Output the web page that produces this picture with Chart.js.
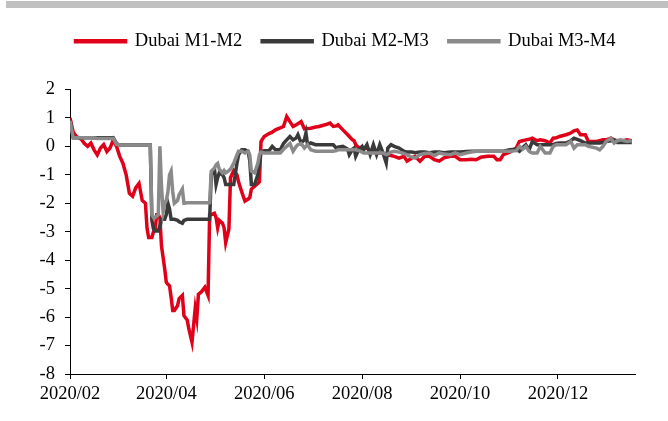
<!DOCTYPE html>
<html>
<head>
<meta charset="utf-8">
<script src="https://cdn.jsdelivr.net/npm/chart.js@4.4.1/dist/chart.umd.min.js"></script>
<style>
  body { margin: 0; background: #fff; }
  #wrap { position: relative; width: 668px; height: 421px; }
  #topBar { position: absolute; left: 6px; top: 1px; width: 662px; height: 7px; background: #c0c0c0; }
  canvas { position: absolute; left: 0; top: 0; }
</style>
</head>
<body>
<div id="wrap">
  <canvas id="spreadChart" width="668" height="421"></canvas>
  <div id="topBar"></div>
</div>
<script>
// sample dates
const dates = [
  '2020-02-01','2020-02-03','2020-02-05','2020-02-08','2020-02-10','2020-02-12','2020-02-14','2020-02-16','2020-02-18','2020-02-20','2020-02-22','2020-02-24','2020-02-26','2020-02-28',
  '2020-03-01','2020-03-03','2020-03-05','2020-03-07','2020-03-09','2020-03-11','2020-03-13','2020-03-15','2020-03-17','2020-03-19','2020-03-20','2020-03-21','2020-03-22','2020-03-23','2020-03-24','2020-03-25','2020-03-26','2020-03-27','2020-03-28','2020-03-29','2020-03-30','2020-03-31',
  '2020-04-01','2020-04-02','2020-04-03','2020-04-04','2020-04-05','2020-04-06','2020-04-08','2020-04-09','2020-04-11','2020-04-12','2020-04-14','2020-04-15','2020-04-17','2020-04-19','2020-04-20','2020-04-21','2020-04-23','2020-04-25','2020-04-27','2020-04-28','2020-04-29',
  '2020-05-01','2020-05-02','2020-05-03','2020-05-04','2020-05-06','2020-05-07','2020-05-08','2020-05-10','2020-05-11','2020-05-13','2020-05-15','2020-05-16','2020-05-18','2020-05-20','2020-05-22','2020-05-23','2020-05-24','2020-05-26','2020-05-28','2020-05-29','2020-05-30',
  '2020-06-01','2020-06-04','2020-06-06','2020-06-08','2020-06-11','2020-06-13','2020-06-15','2020-06-17','2020-06-19','2020-06-21','2020-06-22','2020-06-24','2020-06-26','2020-06-27','2020-06-28','2020-06-30',
  '2020-07-03','2020-07-05','2020-07-09','2020-07-12','2020-07-14','2020-07-16','2020-07-17','2020-07-20','2020-07-23','2020-07-24','2020-07-26','2020-07-27','2020-07-28','2020-07-30',
  '2020-08-01','2020-08-02','2020-08-04','2020-08-06','2020-08-08','2020-08-10','2020-08-12','2020-08-14','2020-08-16','2020-08-17','2020-08-19','2020-08-21','2020-08-24','2020-08-27','2020-08-29',
  '2020-09-01','2020-09-03','2020-09-06','2020-09-09','2020-09-12','2020-09-15','2020-09-18','2020-09-21','2020-09-25','2020-09-28',
  '2020-10-01','2020-10-05','2020-10-08','2020-10-11','2020-10-14','2020-10-18','2020-10-22','2020-10-24','2020-10-26','2020-10-28',
  '2020-11-01','2020-11-05','2020-11-07','2020-11-09','2020-11-11','2020-11-13','2020-11-15','2020-11-18','2020-11-20','2020-11-23','2020-11-26','2020-11-28','2020-11-30',
  '2020-12-02','2020-12-06','2020-12-09','2020-12-11','2020-12-13','2020-12-15','2020-12-18','2020-12-20','2020-12-25','2020-12-27','2020-12-29','2020-12-31',
  '2021-01-03','2021-01-05','2021-01-07','2021-01-09','2021-01-13','2021-01-16'
];

// Dubai M1-M2
const m1m2 = [
  1.0, 0.5, 0.35, 0.25, 0.1, 0.0, 0.12, -0.12, -0.3, -0.06, 0.06, -0.18, -0.05, 0.24,
  0.0, -0.35, -0.6, -1.0, -1.65, -1.75, -1.45, -1.3, -1.9, -2.0, -2.88, -3.2, -3.2, -3.2, -3.0, -2.95, -2.4, -2.4, -2.5, -3.5, -3.9, -4.3,
  -4.78, -4.85, -4.9, -5.3, -5.77, -5.77, -5.6, -5.35, -5.24, -5.95, -6.1, -6.4, -6.88, -5.7, -6.05, -5.2, -5.1, -4.95, -5.24, -2.4, -2.4,
  -2.35, -2.5, -2.86, -2.6, -2.7, -2.86, -3.38, -2.9, -1.1, -0.85, -1.0, -1.24, -1.6, -1.92, -1.85, -1.8, -1.5, -1.4, -1.3, -1.24, 0.17,
  0.35, 0.45, 0.5, 0.58, 0.65, 0.7, 1.05, 0.87, 0.7, 0.76, 0.8, 0.87, 0.62, 0.63, 0.63, 0.64,
  0.68, 0.7, 0.76, 0.82, 0.7, 0.72, 0.76, 0.58, 0.41, 0.35, 0.23, 0.2, 0.06, -0.05,
  -0.12, -0.08, -0.05, -0.2, -0.2, -0.23, -0.23, -0.23, -0.3, -0.3, -0.32, -0.35, -0.41, -0.35, -0.52,
  -0.41, -0.35, -0.52, -0.35, -0.35, -0.47, -0.52, -0.4, -0.35, -0.35,
  -0.47, -0.47, -0.45, -0.47, -0.38, -0.35, -0.35, -0.47, -0.47, -0.29,
  -0.2, -0.06, 0.17, 0.2, 0.23, 0.25, 0.29, 0.2, 0.23, 0.2, 0.12, 0.29, 0.3,
  0.35, 0.41, 0.47, 0.55, 0.58, 0.41, 0.41, 0.17, 0.17, 0.2, 0.23, 0.23,
  0.29, 0.23, 0.2, 0.17, 0.23, 0.2
];

// Dubai M2-M3
const m2m3 = [
  0.95, 0.3, 0.3, 0.3, 0.3, 0.3, 0.3, 0.3, 0.3, 0.3, 0.3, 0.3, 0.3, 0.3,
  0.1, 0.05, 0.05, 0.05, 0.05, 0.05, 0.05, 0.05, 0.05, 0.05, 0.05, 0.05, 0.05, -2.6, -2.9, -2.97, -2.97, -2.97, -2.8, -2.56, -2.56, -2.56,
  -2.4, -2.0, -2.2, -2.56, -2.56, -2.56, -2.6, -2.65, -2.7, -2.6, -2.56, -2.56, -2.56, -2.56, -2.56, -2.56, -2.56, -2.56, -2.56, -2.56, -1.0,
  -0.8, -1.34, -1.1, -0.93, -1.0, -1.1, -1.34, -1.34, -1.34, -1.34, -0.6, -0.3, -0.12, -0.12, -0.18, -0.5, -1.34, -1.34, -1.0, -0.6, -0.18,
  -0.15, -0.15, 0.0, -0.12, -0.12, 0.1, 0.23, 0.35, 0.23, 0.3, 0.41, 0.12, 0.23, 0.47, 0.06, 0.12,
  0.06, 0.06, 0.06, 0.06, 0.06, -0.06, -0.03, 0.0, -0.1, -0.29, -0.1, -0.06, -0.35, -0.1,
  0.0, -0.12, 0.06, -0.29, 0.06, -0.29, 0.06, -0.23, -0.58, -0.06, 0.06, 0.0, -0.06, -0.17, -0.2,
  -0.2, -0.22, -0.2, -0.2, -0.22, -0.2, -0.2, -0.22, -0.2, -0.2,
  -0.2, -0.18, -0.17, -0.17, -0.17, -0.17, -0.17, -0.17, -0.17, -0.17,
  -0.12, -0.1, -0.17, -0.05, 0.06, -0.12, 0.17, 0.06, 0.06, 0.06, 0.06, 0.06, 0.1,
  0.12, 0.12, 0.2, 0.29, 0.25, 0.2, 0.12, 0.12, 0.12, 0.12, 0.14, 0.17,
  0.2, 0.23, 0.14, 0.14, 0.14, 0.14
];

// Dubai M3-M4
const m3m4 = [
  0.9, 0.3, 0.3, 0.3, 0.3, 0.3, 0.3, 0.3, 0.28, 0.28, 0.28, 0.28, 0.28, 0.28,
  0.08, 0.05, 0.05, 0.05, 0.05, 0.05, 0.05, 0.05, 0.05, 0.05, 0.05, 0.05, 0.05, -2.4, -2.5, -2.5, -2.45, -2.4, 0.0, -1.4, -2.3, -2.0,
  -1.9, -1.6, -1.0, -0.87, -1.6, -2.0, -1.9, -1.7, -1.5, -2.0, -1.98, -1.98, -1.98, -1.98, -1.98, -1.98, -1.98, -1.98, -1.98, -1.98, -0.87,
  -0.76, -0.65, -0.6, -0.8, -0.93, -0.85, -0.93, -0.85, -0.8, -0.6, -0.3, -0.17, -0.17, -0.23, -0.17, -0.3, -0.87, -0.93, -0.6, -0.3, -0.2,
  -0.23, -0.23, -0.23, -0.23, -0.23, -0.1, 0.0, 0.1, -0.17, 0.0, 0.06, 0.1, -0.06, 0.0, 0.06, -0.12,
  -0.17, -0.17, -0.17, -0.17, -0.17, -0.15, -0.12, -0.12, -0.12, -0.12, -0.12, -0.12, -0.12, -0.15,
  -0.2, -0.23, -0.23, -0.23, -0.23, -0.23, -0.23, -0.23, -0.29, -0.27, -0.2, -0.17, -0.2, -0.25, -0.3,
  -0.38, -0.41, -0.29, -0.25, -0.23, -0.33, -0.23, -0.27, -0.29, -0.23,
  -0.29, -0.23, -0.2, -0.17, -0.17, -0.17, -0.17, -0.17, -0.17, -0.17,
  -0.17, -0.15, 0.0, -0.1, 0.0, -0.17, -0.23, -0.23, 0.0, -0.23, -0.23, 0.0, 0.06,
  0.06, 0.06, 0.17, -0.06, 0.06, 0.06, 0.06, 0.0, -0.06, -0.12, 0.0, 0.17,
  0.29, 0.12, 0.2, 0.23, 0.17, 0.2
];

// x axis ticks
const tickDates = ['2020-02-01', '2020-04-01', '2020-06-01', '2020-08-01', '2020-10-01', '2020-12-01'];
const tickLabels = ['2020/02', '2020/04', '2020/06', '2020/08', '2020/10', '2020/12'];
const axisEnd = '2021-01-18';

// days since 2020-02-01
function toDay(s) {
  const [y, m, d] = s.split('-').map(Number);
  return (Date.UTC(y, m - 1, d) - Date.UTC(2020, 1, 1)) / 86400000;
}
const tickDays = tickDates.map(toDay);
const toPoints = vals => dates.map((d, i) => ({ x: toDay(d), y: vals[i] }));

Chart.defaults.font.family = "'Liberation Serif', 'Times New Roman', serif";
Chart.defaults.font.size = 18.5;
Chart.defaults.color = '#000';

// extra room under the legend, and move it a bit to the right
const legendGap = {
  id: 'legendGap',
  beforeInit(chart) {
    const fit = chart.legend.fit;
    chart.legend.fit = function () {
      fit.call(this);
      this.height += 29;
    };
  },
  afterLayout(chart) {
    chart.legend.left += 28;
    chart.legend.right += 28;
  }
};

const line = (label, vals, color, order) => ({
  label: label,
  data: toPoints(vals),
  borderColor: color,
  backgroundColor: color,
  borderWidth: 3.5,
  pointRadius: 0,
  tension: 0,
  order: order
});

const ctx = document.getElementById('spreadChart').getContext('2d');
new Chart(ctx, {
  type: 'line',
  data: {
    datasets: [
      line('Dubai M1-M2', m1m2, '#e0001a', 3),
      line('Dubai M2-M3', m2m3, '#3a3a3a', 2),
      line('Dubai M3-M4', m3m4, '#8a8a8a', 1)
    ]
  },
  plugins: [legendGap],
  options: {
    responsive: false,
    animation: false,
    layout: { padding: { top: 12, left: 0, right: 33, bottom: 0 } },
    plugins: {
      legend: {
        position: 'top',
        labels: {
          boxWidth: 50,
          boxHeight: 1,
          padding: 20,
          sort: (a, b) => a.datasetIndex - b.datasetIndex
        }
      },
      tooltip: { enabled: false }
    },
    scales: {
      x: {
        type: 'linear',
        min: 0,
        max: toDay(axisEnd),
        afterBuildTicks: axis => { axis.ticks = tickDays.map(v => ({ value: v })); },
        afterFit: axis => { axis.height = 47; },
        ticks: {
          padding: 4,
          maxRotation: 0,
          autoSkip: false,
          callback: v => tickLabels[tickDays.indexOf(v)]
        },
        grid: { drawOnChartArea: false, tickLength: 5, color: '#000' },
        border: { color: '#000', width: 1 }
      },
      y: {
        min: -8,
        max: 2,
        afterFit: axis => { axis.width = 70; },
        ticks: { stepSize: 1, padding: 10 },
        grid: { drawOnChartArea: false, tickLength: 5, color: '#000' },
        border: { color: '#000', width: 1 }
      }
    }
  }
});
</script>
</body>
</html>
